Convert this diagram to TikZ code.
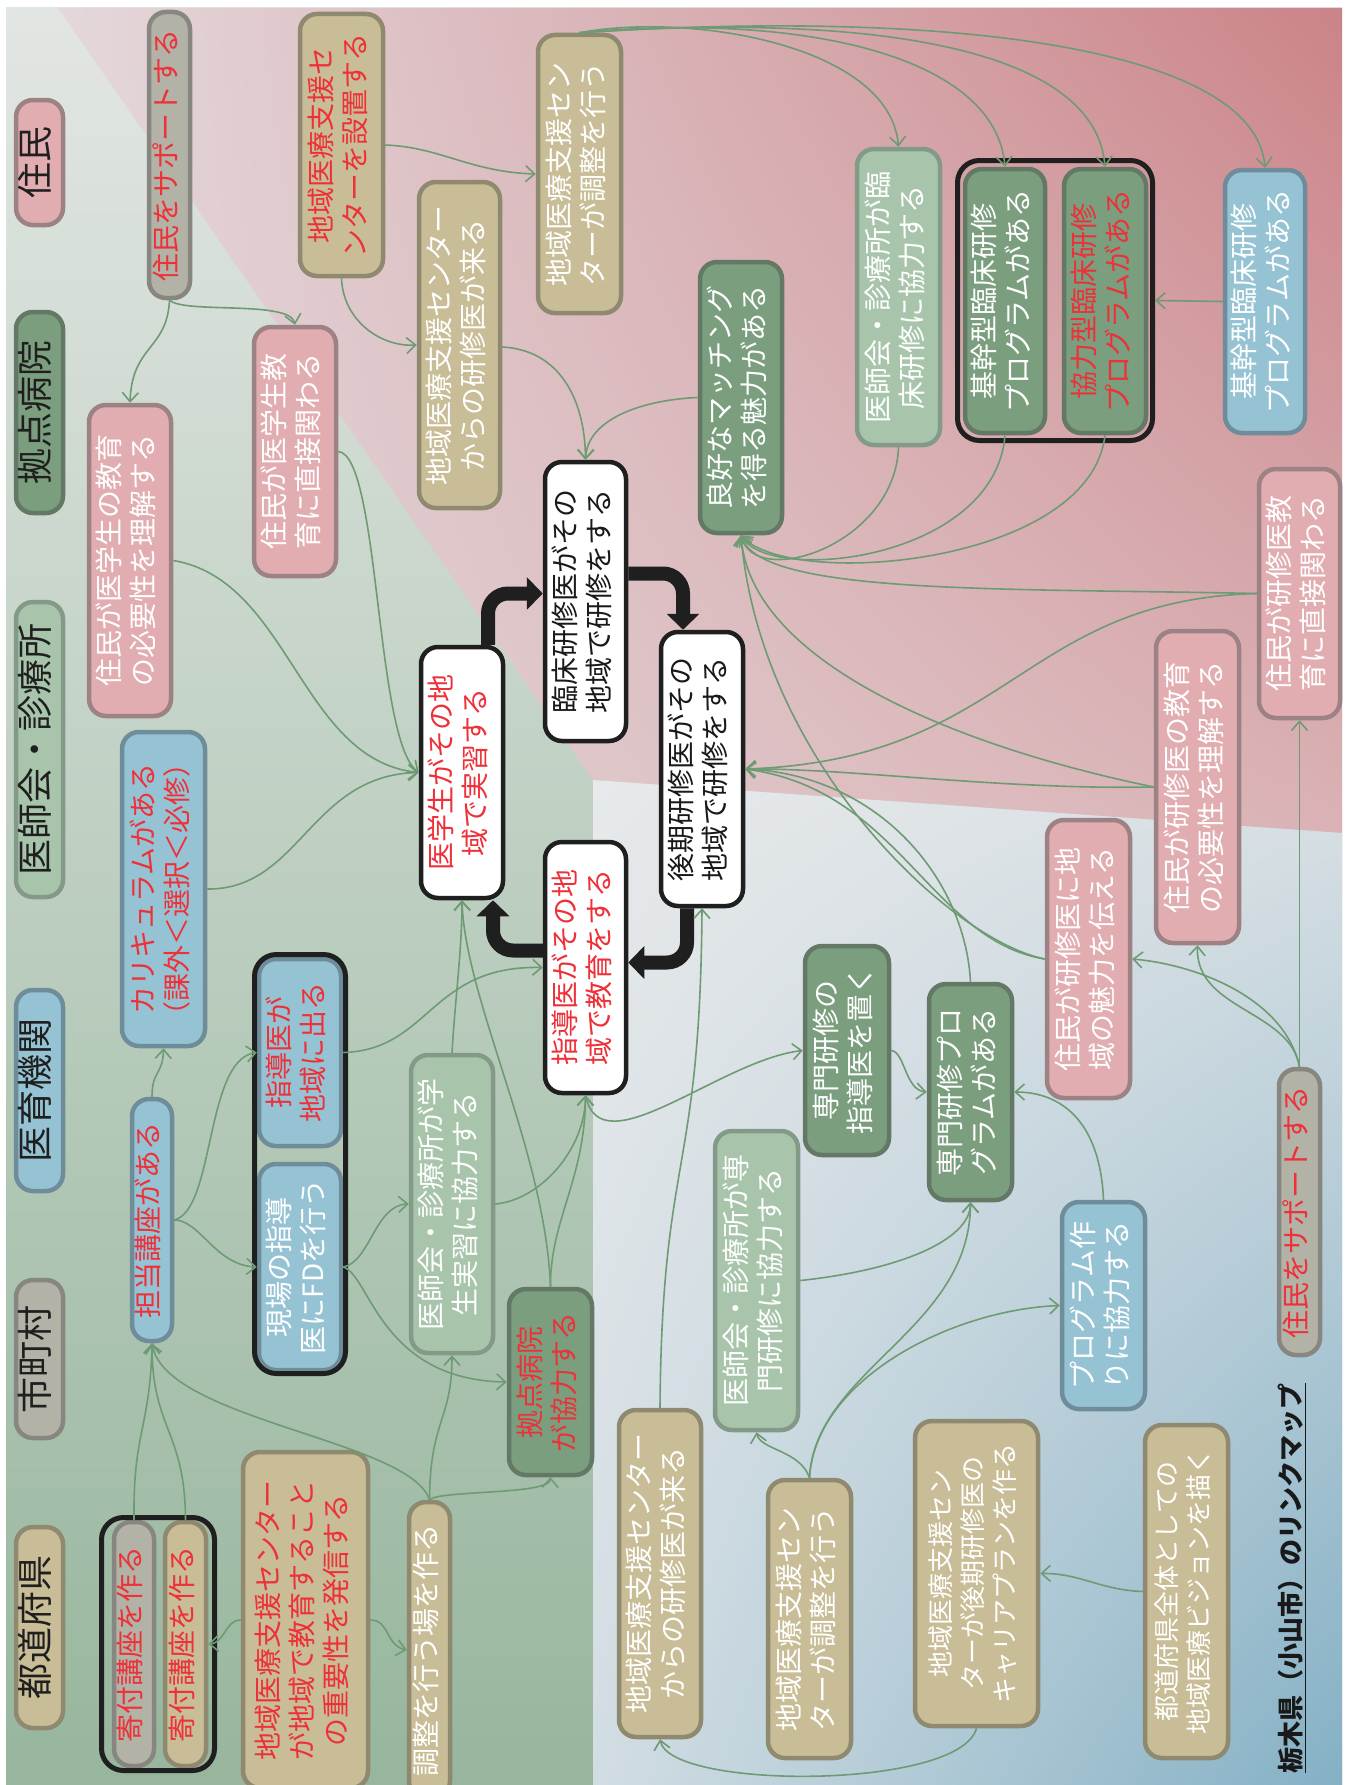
\documentclass[tikz,border=0pt]{standalone}
\usepackage{fontspec}
\setmainfont{Noto Sans CJK JP}
\usepackage{graphicx}
\usetikzlibrary{arrows.meta,calc,shadings}

% box fills and borders
\definecolor{pkF}{HTML}{E2ADB0}\definecolor{pkD}{HTML}{9C8284}
\definecolor{tnF}{HTML}{C8BD96}\definecolor{tnD}{HTML}{8E896F}
\definecolor{gyF}{HTML}{B3B2A6}\definecolor{gyD}{HTML}{878680}
\definecolor{blF}{HTML}{96C3D3}\definecolor{blD}{HTML}{6F8C9A}
\definecolor{lgF}{HTML}{A8C5AB}\definecolor{lgD}{HTML}{849A88}
\definecolor{dgF}{HTML}{7A9E7E}\definecolor{dgD}{HTML}{637865}
\definecolor{txR}{HTML}{EE3038}
\definecolor{lnk}{HTML}{6E9B74}
% backdrop colours
\definecolor{bgA}{HTML}{E2E6E3}\definecolor{bgM}{HTML}{C8D5CB}\definecolor{bgB}{HTML}{97B69D}
\definecolor{rsA}{HTML}{E4D8DB}\definecolor{rsB}{HTML}{CB8388}
\definecolor{rsC}{HTML}{E3D7DA}\definecolor{rsD}{HTML}{DAB2B5}
\definecolor{ltA}{HTML}{E7E9EB}\definecolor{ltB}{HTML}{D9E0E4}
\definecolor{ltC}{HTML}{D2DDE3}\definecolor{ltD}{HTML}{84B0C5}

% text set sideways, reading upwards
\newcommand{\rtxt}[1]{\rotatebox{90}{\begin{tabular}{@{}c@{}}#1\end{tabular}}}

\begin{document}
\begin{tikzpicture}[x=1pt,y=-1pt,
  nbox/.style={draw, line width=4.5pt, rounded corners=17pt, inner sep=0pt,
               font=\fontsize{28}{34}\selectfont},
  cpk/.style={nbox, fill=pkF, draw=pkD},
  ctn/.style={nbox, fill=tnF, draw=tnD},
  cgy/.style={nbox, fill=gyF, draw=gyD},
  cbl/.style={nbox, fill=blF, draw=blD},
  clg/.style={nbox, fill=lgF, draw=lgD},
  cdg/.style={nbox, fill=dgF, draw=dgD},
  cwb/.style={nbox, fill=white, draw=black!88},
  twt/.style={text=white}, trd/.style={text=txR}, tbk/.style={text=black!90},
  leg/.style={font=\fontsize{36}{40}\selectfont, text=black!88},
  smallfont/.style={font=\fontsize{26}{32}\selectfont},
  grp/.style={draw=black!88, line width=5pt, rounded corners=22pt, inner sep=0pt},
  link/.style={draw=lnk, line width=1.6pt, -{Straight Barb[length=9pt,width=16pt]}},
  cyc/.style={draw=black!88, line width=14pt, rounded corners=20pt,
              -{Triangle[length=16pt,width=32pt]}}
]
\useasboundingbox (0,0) rectangle (1349,1785);

% ---- backdrop ----
\shade[top color=bgA, middle color=bgM, bottom color=bgB] (6,8) rectangle (1342,1785);
\shade[upper left=rsA, upper right=rsB, lower left=rsC, lower right=rsD]
  (58,8) -- (1342,8) -- (1342,833) -- (593,780) -- cycle;
\shade[upper left=ltA, upper right=ltB, lower left=ltC, lower right=ltD]
  (593,780) -- (1342,833) -- (1342,1785) -- (593,1785) -- cycle;

% ---- legend ----
\node[cpk, leg, minimum width=47pt, minimum height=125pt] (lgRes)  at (39.5,162.5)  {\rtxt{住民}};
\node[cdg, leg, minimum width=47pt, minimum height=201pt] (lgHosp) at (39.5,412.5)  {\rtxt{拠点病院}};
\node[clg, leg, minimum width=47pt, minimum height=295pt] (lgGP)   at (39.5,749.5)  {\rtxt{医師会・診療所}};
\node[cbl, leg, minimum width=47pt, minimum height=201pt] (lgUniv) at (39.5,1090.5) {\rtxt{医育機関}};
\node[cgy, leg, minimum width=47pt, minimum height=158pt] (lgCity) at (39.5,1359)   {\rtxt{市町村}};
\node[ctn, leg, minimum width=47pt, minimum height=201pt] (lgPref) at (39.5,1627.5) {\rtxt{都道府県}};

% ---- upper half ----
\node[cgy, trd, minimum width=41pt, minimum height=286pt] (supA) at (169.5,155) {\rtxt{住民をサポートする}};
\node[ctn, trd, minimum width=83pt, minimum height=262pt] (setup) at (341.5,145) {\rtxt{地域医療支援セ\\ンターを設置する}};
\node[cpk, twt, minimum width=82pt, minimum height=311pt] (resMS) at (130,560.5) {\rtxt{住民が医学生の教育\\の必要性を理解する}};
\node[cpk, twt, minimum width=82pt, minimum height=249pt] (resMSdir) at (295,451.5) {\rtxt{住民が医学生教\\育に直接関わる}};
\node[ctn, twt, minimum width=81pt, minimum height=326pt] (centerResA) at (459.5,345) {\rtxt{地域医療支援センター\\からの研修医が来る}};
\node[ctn, twt, minimum width=83pt, minimum height=278pt] (coordA) at (579.5,174) {\rtxt{地域医療支援セン\\ターが調整を行う}};
\node[cdg, twt, minimum width=82pt, minimum height=271pt] (matching) at (741,397.5) {\rtxt{良好なマッチング\\を得る魅力がある}};
\node[clg, twt, minimum width=83pt, minimum height=296pt] (gpClin) at (898.5,297) {\rtxt{医師会・診療所が臨\\床研修に協力する}};
\node[cdg, twt, minimum width=80pt, minimum height=264pt] (kikanG) at (1005,301) {\rtxt{基幹型臨床研修\\プログラムがある}};
\node[cdg, trd, minimum width=82pt, minimum height=264pt] (kyoryoku) at (1105,301) {\rtxt{協力型臨床研修\\プログラムがある}};
\node[grp, minimum width=195pt, minimum height=280pt] (grpClin) at (1055,300.5) {};
\node[cbl, twt, minimum width=80pt, minimum height=263pt] (kikanB) at (1265,301.5) {\rtxt{基幹型臨床研修\\プログラムがある}};

% ---- central cycle ----
\node[cwb, trd, minimum width=82pt, minimum height=251pt] (student) at (462,772.5) {\rtxt{医学生がその地\\域で実習する}};
\node[cwb, tbk, minimum width=81pt, minimum height=279pt] (clinRes) at (585.5,601.5) {\rtxt{臨床研修医がその\\地域で研修をする}};
\node[cwb, trd, minimum width=81pt, minimum height=251pt] (instr) at (585.5,967.5) {\rtxt{指導医がその地\\域で教育をする}};
\node[cwb, tbk, minimum width=82pt, minimum height=274pt] (lateRes) at (702,769) {\rtxt{後期研修医がその\\地域で研修をする}};

% ---- right side ----
\node[cpk, twt, minimum width=81pt, minimum height=249pt] (resDir2) at (1299.5,593.5) {\rtxt{住民が研修医教\\育に直接関わる}};
\node[cpk, twt, minimum width=83pt, minimum height=312pt] (resNeed2) at (1197.5,787) {\rtxt{住民が研修医の教育\\の必要性を理解する}};
\node[cpk, twt, minimum width=83pt, minimum height=278pt] (resAppeal) at (1088.5,959) {\rtxt{住民が研修医に地\\域の魅力を伝える}};

% ---- lower left ----
\node[cbl, trd, minimum width=83pt, minimum height=314pt] (curric) at (163.5,889) {\rtxt{カリキュラムがある\\（課外＜選択＜必修）}};
\node[cbl, trd, minimum width=40pt, minimum height=242pt] (dept) at (152,1220) {\rtxt{担当講座がある}};
\node[cbl, trd, minimum width=82pt, minimum height=187pt] (instrOut) at (300,1052.5) {\rtxt{指導医が\\地域に出る}};
\node[cbl, twt, minimum width=82pt, minimum height=206pt] (fd) at (300,1267) {\rtxt{現場の指導\\医にFDを行う}};
\node[grp, minimum width=91pt, minimum height=419pt] (grpFD) at (300,1164) {};
\node[clg, twt, minimum width=82pt, minimum height=298pt] (gpStud) at (452,1204) {\rtxt{医師会・診療所が学\\生実習に協力する}};
\node[cdg, trd, minimum width=83pt, minimum height=186pt] (hospital) at (550.5,1382) {\rtxt{拠点病院\\が協力する}};
\node[cgy, trd, minimum width=40pt, minimum height=244pt] (endowA) at (134,1644) {\rtxt{寄付講座を作る}};
\node[ctn, trd, minimum width=41pt, minimum height=244pt] (endowB) at (185.5,1644) {\rtxt{寄付講座を作る}};
\node[grp, minimum width=113pt, minimum height=253pt] (grpEndow) at (158,1644) {};
\node[ctn, trd, minimum width=125pt, minimum height=336pt] (message) at (305.5,1620) {\rtxt{地域医療支援センター\\が地域で教育すること\\の重要性を発信する}};
\node[ctn, twt, minimum width=41pt, minimum height=296pt] (venue) at (429.5,1650) {\rtxt{調整を行う場を作る}};

% ---- lower right ----
\node[cdg, twt, minimum width=84pt, minimum height=209pt] (specInstr) at (847,1050.5) {\rtxt{専門研修の\\指導医を置く}};
\node[clg, twt, minimum width=83pt, minimum height=299pt] (gpSpec) at (756.5,1280.5) {\rtxt{医師会・診療所が専\\門研修に協力する}};
\node[cdg, twt, minimum width=83pt, minimum height=216pt] (specProg) at (970.5,1092) {\rtxt{専門研修プロ\\グラムがある}};
\node[cbl, twt, minimum width=83pt, minimum height=207pt] (progHelp) at (1103.5,1305.5) {\rtxt{プログラム作\\りに協力する}};
\node[cgy, trd, minimum width=41pt, minimum height=286pt] (supB) at (1299.5,1212) {\rtxt{住民をサポートする}};
\node[ctn, twt, minimum width=82pt, minimum height=327pt] (centerResB) at (660,1573.5) {\rtxt{地域医療支援センター\\からの研修医が来る}};
\node[ctn, twt, minimum width=83pt, minimum height=278pt] (coordB) at (809.5,1619) {\rtxt{地域医療支援セン\\ターが調整を行う}};
\node[ctn, twt, smallfont, minimum width=123pt, minimum height=305pt] (career) at (976.5,1573.5) {\rtxt{地域医療支援セン\\ターが後期研修医の\\キャリアプランを作る}};
\node[ctn, twt, smallfont, minimum width=83pt, minimum height=333pt] (vision) at (1186.5,1591.5) {\rtxt{都道府県全体としての\\地域医療ビジョンを描く}};

\node[font=\fontsize{26}{30}\selectfont\bfseries, text=black!90, inner sep=0pt] (title) at (1292,1578)
  {\rotatebox{90}{\underline{栃木県（小山市）のリンクマップ}}};

% ---- cycle of the four central steps ----
\draw[cyc] ($(student.north)+(26,0)$) |- ($(clinRes.west)+(0,-8)$);
\draw[cyc] ($(clinRes.east)+(0,-28)$) -| ($(lateRes.north)+(-19,0)$);
\draw[cyc] ($(lateRes.south)+(-15,0)$) |- ($(instr.east)+(0,-5)$);
\draw[cyc] ($(instr.west)+(0,-17)$) -| ($(student.south)+(31,0)$);

% ---- links: upper area ----
\draw[link] (supA.south) .. controls (167,350) and (132,345) .. (resMS.north);
\draw[link] (supA.south) .. controls (185,314) and (290,300) .. (resMSdir.north);
\draw[link] (setup.south) .. controls (343,320) and (380,347) .. (centerResA.west);
\draw[link] (setup.east) .. controls (440,147) and (470,172) .. (coordA.west);
\draw[link] (coordA.north) .. controls (690,12) and (890,45) .. (gpClin.north);
\draw[link] (coordA.north) .. controls (800,12) and (995,55) .. (kikanG.north);
\draw[link] (coordA.north) .. controls (880,12) and (1095,50) .. (kyoryoku.north);
\draw[link] (coordA.north) .. controls (960,8) and (1255,50) .. (kikanB.north);
\draw[link] ($(centerResA.east)+(0,2)$) .. controls (560,350) and (585,400) .. (clinRes.north);
\draw[link] (matching.west) .. controls (640,400) and (587,420) .. (clinRes.north);
\draw[link] (kikanB.west) -- (grpClin.east);

% ---- links into the matching node ----
\draw[link] (gpClin.south) .. controls (895,545) and (755,590) .. (matching.south);
\draw[link] (kikanG.south) .. controls (995,560) and (770,585) .. (matching.south);
\draw[link] (kyoryoku.south) .. controls (1090,565) and (790,590) .. (matching.south);
\draw[link] (resDir2.west) .. controls (1000,588) and (760,595) .. (matching.south);
\draw[link] (resNeed2.west) .. controls (950,745) and (750,660) .. (matching.south);
\draw[link] (resAppeal.west) .. controls (950,940) and (760,760) .. (matching.south);

% ---- links into the late residency node ----
\draw[link] (resDir2.west) .. controls (1020,600) and (1010,760) .. (lateRes.east);
\draw[link] (resNeed2.west) .. controls (1000,790) and (850,768) .. (lateRes.east);
\draw[link] (resAppeal.west) .. controls (930,940) and (900,790) .. (lateRes.east);
\draw[link] (specProg.north) .. controls (965,880) and (880,775) .. (lateRes.east);
\draw[link] (centerResB.north) .. controls (662,1150) and (700,1180) .. (lateRes.south);

% ---- links into the student node ----
\draw[link] (resMS.east) .. controls (290,580) and (300,760) .. (student.west);
\draw[link] (resMSdir.east) .. controls (380,455) and (375,740) .. (student.west);
\draw[link] (curric.east) .. controls (300,890) and (310,775) .. (student.west);
\draw[link] (gpStud.north) .. controls (455,1000) and (462,950) .. (student.south);
\draw[link] (hospital.north) .. controls (545,1150) and (465,1000) .. (student.south);

% ---- links: university side ----
\draw[link] (dept.north) .. controls (152,1070) and (163,1075) .. (curric.south);
\draw[link] (dept.east) .. controls (215,1210) and (205,1060) .. (instrOut.west);
\draw[link] (dept.east) .. controls (200,1220) and (215,1265) .. (fd.west);
\draw[link] (endowA.north) .. controls (133,1430) and (150,1430) .. (dept.south);
\draw[link] (endowB.north) .. controls (185,1430) and (152,1430) .. (dept.south);
\draw[link] (venue.north) .. controls (410,1440) and (165,1420) .. (dept.south);
\draw[link] (venue.north) .. controls (430,1420) and (452,1420) .. (gpStud.south);
\draw[link] (venue.north) .. controls (440,1490) and (550,1495) .. (hospital.south);
\draw[link] (message.west) .. controls (225,1620) and (225,1643) .. (endowB.east);
\draw[link] (message.east) .. controls (390,1620) and (385,1645) .. (venue.west);
\draw[link] (fd.east) .. controls (370,1262) and (375,1205) .. (gpStud.west);
\draw[link] (fd.east) .. controls (370,1275) and (380,1380) .. (hospital.west);
\draw[link] (instrOut.east) .. controls (430,1050) and (430,965) .. (instr.west);
\draw[link] (hospital.north) .. controls (550,1220) and (585,1180) .. (instr.south);
\draw[link] (gpStud.east) .. controls (540,1200) and (585,1150) .. (instr.south);
\draw[link] (instr.south) .. controls (600,1170) and (720,1060) .. (specInstr.west);

% ---- links: specialist training ----
\draw[link] (gpSpec.east) .. controls (900,1270) and (970,1240) .. (specProg.south);
\draw[link] (coordB.north) .. controls (800,1450) and (760,1450) .. (gpSpec.south);
\draw[link] (coordB.north) .. controls (815,1370) and (970,1330) .. (specProg.south);
\draw[link] (coordB.north) .. controls (815,1380) and (950,1310) .. (progHelp.west);
\draw[link] (progHelp.north) .. controls (1100,1120) and (1060,1092) .. (specProg.east);
\draw[link] (specInstr.east) .. controls (905,1052) and (905,1090) .. (specProg.west);

% ---- links: residents' support ----
\draw[link] (supB.north) -- (resDir2.south);
\draw[link] (supB.north) .. controls (1290,1010) and (1195,1010) .. (resNeed2.south);
\draw[link] (supB.north) .. controls (1285,1000) and (1200,965) .. (resAppeal.east);

% ---- links: prefecture ----
\draw[link] (career.south) .. controls (960,1790) and (670,1790) .. (centerResB.south);
\draw[link] (vision.west) .. controls (1100,1590) and (1080,1573) .. (career.east);
\end{tikzpicture}
\end{document}
